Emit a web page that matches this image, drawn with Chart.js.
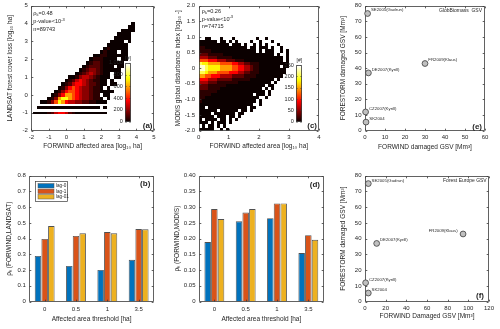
<!DOCTYPE html>
<html><head><meta charset="utf-8"><title>FORWIND comparison</title>
<script src="https://cdn.jsdelivr.net/npm/chart.js@4.4.1/dist/chart.umd.min.js"></script>
<style>
html,body{margin:0;padding:0;background:#ffffff;}
#fig{position:relative;width:500px;height:329px;overflow:hidden;background:#fff;}
#fig canvas{position:absolute;left:0;top:0;}
</style></head>
<body><div id="fig">
<canvas id="cA" width="500" height="329"></canvas>
<canvas id="cAbar" width="500" height="329"></canvas>
<canvas id="cC" width="500" height="329"></canvas>
<canvas id="cCbar" width="500" height="329"></canvas>
<canvas id="cE" width="500" height="329"></canvas>
<canvas id="cB" width="500" height="329"></canvas>
<canvas id="cD" width="500" height="329"></canvas>
<canvas id="cF" width="500" height="329"></canvas>
</div>
<script>
/* ================= DATA ================= */
// (a) 2-D histogram FORWIND vs LANDSAT [log10 ha]; one string per y-bin, one char per x-bin
// '.' = empty bin, digit = count class (heatA_classCounts)
const heatA_xFirst = -1.8;
const heatA_xBin = 0.2;
const heatA_rowY = [4.0, 3.8, 3.6, 3.4, 3.2, 3.0, 2.8, 2.6, 2.4, 2.2, 2.0, 1.8, 1.6, 1.4, 1.2, 1.0, 0.8, 0.6, 0.4, 0.2, 0.0, -0.2, -0.4, -0.7, -1.0];
const heatA_rowH = [0.2, 0.2, 0.2, 0.2, 0.2, 0.2, 0.2, 0.2, 0.2, 0.2, 0.2, 0.2, 0.2, 0.2, 0.2, 0.2, 0.2, 0.2, 0.2, 0.2, 0.2, 0.2, 0.2, 0.12, 0.12];
const heatA_rowStart = [28, 27, 25, 24, 23, 22, 21, 20, 19, 17, 16, 15, 14, 13, 12, 10, 9, 8, 7, 6, 5, 4, 2, 1, 0];
const heatA_rows = [
  "0",
  "00",
  "0000",
  "0000",
  "00000",
  "0000.0",
  "000000",
  "0100000",
  "01000.00",
  "0011000000",
  "01110000.00",
  "01221000000",
  "012221000.00",
  "012332100000",
  "0123432100.00",
  "001344321000.00",
  "012454321100.0",
  "0124554322100.00",
  "0135654332110.0",
  "01356654332110000",
  "01357765433211.00",
  "0137887654332110.0",
  "0013687544332211000",
  "000000000000000000.0",
  "000012455421000000000"
];
const heatA_classCounts = [5, 50, 120, 190, 270, 370, 480, 600, 750, 900];
const heatA_cmax = 1000;
const statA_rho = "0.48";
const statA_pexp = "-3";
const statA_n = "89743";

// (c) 2-D histogram FORWIND vs MODIS global disturbance index
const heatC_xFirst = 0.05;
const heatC_xBin = 0.1;
const heatC_yBin = 0.1;
const heatC_rowY = [0.95, 0.85, 0.75, 0.65, 0.55, 0.45, 0.35, 0.25, 0.15, 0.05, -0.05, -0.15, -0.25, -0.35, -0.45, -0.55, -0.65, -0.75, -0.85, -0.95, -1.05, -1.15, -1.25, -1.35, -1.45, -1.55, -1.65, -1.75, -1.85, -1.95];
const heatC_rows = [
  "..00...0...0.......0..0",
  "000000.00.0.0....0..0...0",
  "0000000000.000.0..0.0.0...0",
  "1100000000000000.00.000.0..0",
  "1111000000000000000.0.000..0.0",
  "2221111100000000000000000.0..0",
  "3332221111100000000000000000.0",
  "5554443332221110000000000000.0",
  "877666655554433221110000000000",
  "998777766665544332110000000.00",
  "99877776666554433211000000000",
  "88766655554443322111000000000",
  "6655444333322221111000000000",
  "4443332222211111100000000.0",
  "333222111111100000000000.0",
  "2221111110000000000000.00",
  "222111100000000000000.0.0",
  "1111110000000000000000.0",
  "111100000000000000.000.0",
  "11000000000000000000..0",
  "1000000000000000000.0",
  "000000000000000000..0",
  "00.0000000000000.00",
  "000000.000000.00.0",
  "0000.0000000.00",
  "00000.000.00.0",
  "0.0000.00.0.0",
  "000.0.000.0",
  ".0.00.0.0",
  "00000..0.0"
];
const heatC_classCounts = [2, 15, 35, 60, 90, 120, 150, 180, 205, 235];
const heatC_cmax = 250;
const statC_rho = "0.26";
const statC_pexp = "-3";
const statC_n = "74715";

// (b),(d) Kendall correlation vs affected-area threshold
const thresholds = ["0", "0.5", "1", "3.5"];
const lagNames = ["lag-0", "lag-1", "lag-01"];
const rhoLandsat_lag0 = [0.290, 0.226, 0.201, 0.265];
const rhoLandsat_lag1 = [0.398, 0.417, 0.442, 0.461];
const rhoLandsat_lag01 = [0.480, 0.434, 0.434, 0.459];
const rhoModis_lag0 = [0.189, 0.255, 0.265, 0.154];
const rhoModis_lag1 = [0.294, 0.283, 0.312, 0.211];
const rhoModis_lag01 = [0.262, 0.294, 0.312, 0.196];

// (e),(f) storm damaged growing stock volume [Mm3]
const stormNames = ["SE2005(Gudrun)", "DE2007(Kyrill)", "FR2009(Klaus)", "CZ2007(Kyrill)", "SK2004"];
const forestormGSV = [75, 37, 43, 12, 5.5];
const forwindGSV_GlobBiomass = [1.3, 1.7, 30, 0.3, 0.5];
const forwindGSV_ForestEurope = [3.2, 11.3, 94.9, 0.6, 3.2];

/* ================= STYLE / HELPERS ================= */
const FONT = "'Liberation Sans', Arial, Helvetica, sans-serif";
const TXT = '#262626';
const TICK_SIZE = 6;
const TITLE_SIZE = 6.5;
const LH = TITLE_SIZE * 1.2;
const CW = 500, CH = 329;
const BAR_COLORS = ['#0072BD', '#D95319', '#EDB120'];
Chart.defaults.font.family = FONT;
Chart.defaults.color = TXT;

function hotColor(v, vmax) {
  const m = 64;
  let idx = Math.floor(v / vmax * m) + 1;
  if (idx > m) idx = m; if (idx < 1) idx = 1;
  const r = Math.min(1, idx / 24);
  const g = Math.max(0, Math.min(1, (idx - 24) / 24));
  const b = Math.max(0, Math.min(1, (idx - 48) / 16));
  return 'rgb(' + Math.round(r * 255) + ',' + Math.round(g * 255) + ',' + Math.round(b * 255) + ')';
}

function frame(area, yTitleX, xTitleY) {
  const padL = yTitleX - LH / 2;
  const padB = CH - (xTitleY + LH / 2);
  return {
    padding: {left: padL, top: area.t, right: CW - area.r, bottom: padB},
    yW: area.l - padL,
    xH: (xTitleY + LH / 2) - area.b
  };
}

function axis(o) {
  const s = {
    type: o.type || 'linear',
    display: true,
    grid: {display: false, drawTicks: false},
    border: {display: false},
    ticks: {color: TXT, font: {family: FONT, size: o.tickSize || TICK_SIZE}, padding: o.pad, maxRotation: 0, autoSkip: false},
    title: {display: !!o.title, text: o.title || '', color: TXT, font: {family: FONT, size: TITLE_SIZE, lineHeight: 1.2}, padding: 0}
  };
  if (o.type !== 'category') { s.min = o.min; s.max = o.max; s.ticks.stepSize = o.step; }
  if (o.horizontal) {
    s.afterFit = (sc) => { sc.height = o.size; sc.paddingLeft = 0; sc.paddingRight = 0; };
  } else {
    s.afterFit = (sc) => { sc.width = o.size; sc.paddingTop = 0; sc.paddingBottom = 0; };
  }
  return s;
}

function boxPlugin(hook, tl) {
  const p = {id: 'box_' + hook};
  p[hook] = function (chart) {
    const ctx = chart.ctx, a = chart.chartArea;
    const xs = chart.scales.x, ys = chart.scales.y;
    const L = Math.round(a.left) + 0.5, R = Math.round(a.right) - 0.5;
    const T = Math.round(a.top) + 0.5, B = Math.round(a.bottom) - 0.5;
    ctx.save();
    ctx.strokeStyle = '#3a3a3a';
    ctx.lineWidth = 0.8;
    ctx.beginPath();
    ctx.rect(L, T, R - L, B - T);
    if (xs && xs.options.display !== false) {
      xs.ticks.forEach((t, i) => {
        const px = Math.round(xs.getPixelForTick(i)) + 0.5;
        ctx.moveTo(px, B); ctx.lineTo(px, B - tl);
        ctx.moveTo(px, T); ctx.lineTo(px, T + tl);
      });
    }
    if (ys) {
      ys.ticks.forEach((t, i) => {
        const py = Math.round(ys.getPixelForTick(i)) + 0.5;
        ctx.moveTo(L, py); ctx.lineTo(L + tl, py);
        ctx.moveTo(R, py); ctx.lineTo(R - tl, py);
      });
    }
    ctx.stroke();
    ctx.restore();
  };
  return p;
}

function heatPlugin(h) {
  return {
    id: 'heat',
    beforeDatasetsDraw(chart) {
      const ctx = chart.ctx, a = chart.chartArea;
      const xs = chart.scales.x, ys = chart.scales.y;
      ctx.save();
      ctx.beginPath(); ctx.rect(a.left, a.top, a.right - a.left, a.bottom - a.top); ctx.clip();
      h.rows.forEach((row, r) => {
        const yc = h.rowY[r], hh = h.rowH[r];
        const y0 = Math.round(ys.getPixelForValue(yc + hh / 2));
        const y1 = Math.round(ys.getPixelForValue(yc - hh / 2));
        const start = h.rowStart ? h.rowStart[r] : 0;
        for (let j = 0; j < row.length; j++) {
          const ch = row[j];
          if (ch === '.') continue;
          const xc = h.xFirst + (start + j) * h.xBin;
          const x0 = Math.round(xs.getPixelForValue(xc - h.xBin / 2));
          const x1 = Math.round(xs.getPixelForValue(xc + h.xBin / 2));
          ctx.fillStyle = hotColor(h.counts[+ch], h.cmax);
          ctx.fillRect(x0, y0, x1 - x0, y1 - y0);
        }
      });
      ctx.restore();
    }
  };
}

function drawRich(ctx, segs, x, y, size, align, bold) {
  const w = bold ? 'bold ' : '';
  const parts = segs.map(s => {
    const sc = s[1] ? 0.72 : 1;
    const f = w + (size * sc) + 'px ' + FONT;
    ctx.font = f;
    return {t: s[0], f: f, w: ctx.measureText(s[0]).width,
      dy: s[1] === 'sub' ? size * 0.3 : (s[1] === 'sup' ? -size * 0.38 : 0)};
  });
  const total = parts.reduce((acc, p) => acc + p.w, 0);
  let cx = align === 'right' ? x - total : (align === 'center' ? x - total / 2 : x);
  ctx.save();
  ctx.fillStyle = TXT; ctx.textBaseline = 'middle'; ctx.textAlign = 'left';
  parts.forEach(p => { ctx.font = p.f; ctx.fillText(p.t, cx, y + p.dy); cx += p.w; });
  ctx.restore();
}

function textPlugin(items) {
  return {
    id: 'txt',
    afterDraw(chart) {
      const a = chart.chartArea, ctx = chart.ctx;
      items.forEach(it => {
        const bx = it.anchor[1] === 'l' ? a.left : (it.anchor[1] === 'r' ? a.right : (a.left + a.right) / 2);
        const by = it.anchor[0] === 't' ? a.top : a.bottom;
        drawRich(ctx, it.segs, bx + it.dx, by + it.dy, it.size, it.align || 'left', it.bold);
      });
    }
  };
}

function pointLabelPlugin(names, rightAligned) {
  return {
    id: 'ptlab',
    afterDatasetsDraw(chart) {
      const meta = chart.getDatasetMeta(0), ctx = chart.ctx;
      ctx.save();
      ctx.font = '4.3px ' + FONT;
      ctx.fillStyle = TXT;
      ctx.textBaseline = 'middle';
      meta.data.forEach((pt, i) => {
        if (rightAligned.indexOf(i) >= 0) { ctx.textAlign = 'right'; ctx.fillText(names[i], pt.x - 5.5, pt.y - 3.5); }
        else { ctx.textAlign = 'left'; ctx.fillText(names[i], pt.x + 3.3, pt.y - 3.2); }
      });
      ctx.restore();
    }
  };
}

const barLegendPlugin = {
  id: 'barlegend',
  afterDatasetsDraw(chart) {
    const a = chart.chartArea, ctx = chart.ctx;
    const bx = Math.round(a.left + 5.7) + 0.5, by = Math.round(a.top + 5) + 0.5, bw = 32, bh = 20;
    ctx.save();
    ctx.fillStyle = '#fff'; ctx.fillRect(bx, by, bw, bh);
    ctx.strokeStyle = '#3a3a3a'; ctx.lineWidth = 0.7; ctx.strokeRect(bx, by, bw, bh);
    chart.data.datasets.forEach((ds, i) => {
      const cy = by + 4.3 + i * 5.5;
      ctx.fillStyle = ds.backgroundColor;
      ctx.fillRect(bx + 2.5, cy - 2.2, 16, 4.4);
      ctx.strokeStyle = '#555'; ctx.lineWidth = 0.5;
      ctx.strokeRect(bx + 2.5, cy - 2.2, 16, 4.4);
      ctx.font = '4.6px ' + FONT; ctx.fillStyle = TXT; ctx.textBaseline = 'middle'; ctx.textAlign = 'left';
      ctx.fillText(ds.label, bx + 20.5, cy);
    });
    ctx.restore();
  }
};

const baseOpts = () => ({
  responsive: false, animation: false, events: [], devicePixelRatio: 1,
  plugins: {legend: {display: false}, tooltip: {enabled: false}, title: {display: false}}
});

/* ---------- heatmap panel ---------- */
function heatPanel(id, area, yTx, xTy, xr, yr, xTitle, yTitle, heat, texts) {
  const fr = frame(area, yTx, xTy);
  const o = baseOpts();
  o.layout = {padding: fr.padding};
  o.scales = {
    x: axis({min: xr[0], max: xr[1], step: xr[2], title: xTitle, horizontal: true, size: fr.xH, pad: 3}),
    y: axis({min: yr[0], max: yr[1], step: yr[2], title: yTitle, size: fr.yW, pad: 3.5})
  };
  return new Chart(document.getElementById(id), {
    type: 'scatter',
    data: {datasets: [{data: [], pointRadius: 0}]},
    options: o,
    plugins: [heatPlugin(heat), boxPlugin('afterDatasetsDraw', 1.8), textPlugin(texts)]
  });
}

function colorbar(id, area, vmax, step) {
  const o = baseOpts();
  const yW = 20;
  o.layout = {padding: {left: area.l - yW, top: area.t, right: CW - area.r, bottom: CH - area.b}};
  const xa = axis({type: 'category', horizontal: true, size: 0, pad: 0});
  xa.display = false;
  o.scales = {x: xa, y: axis({min: 0, max: vmax, step: step, size: yW, pad: 2.2, tickSize: 5.5})};
  return new Chart(document.getElementById(id), {
    type: 'bar',
    data: {labels: [''], datasets: [{
      data: [vmax], borderWidth: 0, barPercentage: 1, categoryPercentage: 1,
      backgroundColor: (c) => {
        const ch = c.chart, a = ch.chartArea;
        if (!a) return '#000';
        const g = ch.ctx.createLinearGradient(0, a.bottom, 0, a.top);
        for (let k = 0; k <= 64; k++) g.addColorStop(k / 64, hotColor(k / 64 * vmax, vmax));
        return g;
      }
    }]},
    options: o,
    plugins: [boxPlugin('afterDatasetsDraw', 1), textPlugin([{segs: [['[#]']], anchor: 'tc', dx: 0.3, dy: -4, size: 5, align: 'center'}])]
  });
}

/* ---------- (a) ---------- */
heatPanel('cA', {l: 31.3, t: 5.7, r: 154, b: 130.7}, 10, 146.7, [-2, 5, 1], [-2, 5, 1],
  'FORWIND affected area [log\u2081\u2080 ha]', 'LANDSAT forest cover loss [log\u2081\u2080 ha]',
  {rows: heatA_rows, rowY: heatA_rowY, rowH: heatA_rowH, rowStart: heatA_rowStart, xFirst: heatA_xFirst, xBin: heatA_xBin, counts: heatA_classCounts, cmax: heatA_cmax},
  [
    {segs: [['\u03C1'], ['k', 'sub'], ['=' + statA_rho]], anchor: 'tl', dx: 2, dy: 7.3, size: 5.6},
    {segs: [['p-value<10'], [statA_pexp, 'sup']], anchor: 'tl', dx: 2, dy: 16, size: 5.6},
    {segs: [['n=' + statA_n]], anchor: 'tl', dx: 2, dy: 23.6, size: 5.6},
    {segs: [['(a)']], anchor: 'br', dx: -1.5, dy: -4.5, size: 8, align: 'right', bold: true}
  ]);
colorbar('cAbar', {l: 125, t: 62.7, r: 130.7, b: 121.7}, heatA_cmax, 200);

/* ---------- (c) ---------- */
const heatC_rowH = heatC_rowY.map(() => heatC_yBin);
heatPanel('cC', {l: 198.7, t: 5.7, r: 319, b: 130.7}, 178.3, 146.7, [0, 4, 1], [-2, 2, 0.5],
  'FORWIND affected area [log\u2081\u2080 ha]', 'MODIS global disturbance index [log\u2081\u2080 -]',
  {rows: heatC_rows, rowY: heatC_rowY, rowH: heatC_rowH, xFirst: heatC_xFirst, xBin: heatC_xBin, counts: heatC_classCounts, cmax: heatC_cmax},
  [
    {segs: [['\u03C1'], ['k', 'sub'], ['=' + statC_rho]], anchor: 'tl', dx: 3, dy: 6, size: 5.6},
    {segs: [['p-value<10'], [statC_pexp, 'sup']], anchor: 'tl', dx: 3, dy: 13.3, size: 5.6},
    {segs: [['n=' + statC_n]], anchor: 'tl', dx: 3, dy: 21, size: 5.6},
    {segs: [['(c)']], anchor: 'br', dx: -2, dy: -5, size: 8, align: 'right', bold: true}
  ]);
colorbar('cCbar', {l: 296, t: 65, r: 302, b: 121.7}, heatC_cmax, 50);

/* ---------- scatter panels ---------- */
function scatterPanel(id, area, yTx, xTy, xr, yr, xTitle, yTitle, xs, ys, rightLab, texts) {
  const fr = frame(area, yTx, xTy);
  const o = baseOpts();
  o.layout = {padding: fr.padding};
  o.scales = {
    x: axis({min: xr[0], max: xr[1], step: xr[2], title: xTitle, horizontal: true, size: fr.xH, pad: 3.2}),
    y: axis({min: yr[0], max: yr[1], step: yr[2], title: yTitle, size: fr.yW, pad: 3.5})
  };
  return new Chart(document.getElementById(id), {
    type: 'scatter',
    data: {datasets: [{
      data: xs.map((v, i) => ({x: v, y: ys[i]})),
      pointRadius: 2.9, pointBackgroundColor: '#c0c0c0', pointBorderColor: '#3c3c3c', pointBorderWidth: 0.8,
      clip: false
    }]},
    options: o,
    plugins: [boxPlugin('beforeDatasetsDraw', 1.8), pointLabelPlugin(stormNames, rightLab), textPlugin(texts)]
  });
}

scatterPanel('cE', {l: 365, t: 5.7, r: 485, b: 130.7}, 343, 147.3, [0, 60, 10], [0, 80, 10],
  'FORWIND damaged GSV [Mm\u00B3]', 'FORESTORM damaged GSV [Mm\u00B3]',
  forwindGSV_GlobBiomass, forestormGSV, [],
  [
    {segs: [['GlobBiomass  GSV']], anchor: 'tr', dx: -3, dy: 4.5, size: 5, align: 'right'},
    {segs: [['(e)']], anchor: 'br', dx: -3, dy: -4.3, size: 8, align: 'right', bold: true}
  ]);

scatterPanel('cF', {l: 365, t: 175.7, r: 489, b: 301.7}, 343, 316.7, [0, 120, 20], [0, 80, 10],
  'FORWIND Damaged GSV [Mm\u00B3]', 'FORESTORM damaged GSV [Mm\u00B3]',
  forwindGSV_ForestEurope, forestormGSV, [2],
  [
    {segs: [['Forest Europe GSV']], anchor: 'tr', dx: -2.3, dy: 5, size: 5, align: 'right'},
    {segs: [['(f)']], anchor: 'br', dx: -5, dy: -5.5, size: 8, align: 'right', bold: true}
  ]);

/* ---------- bar panels ---------- */
function barPanel(id, area, yTx, xTy, yr, yTitle, series, legend, texts) {
  const fr = frame(area, yTx, xTy);
  const o = baseOpts();
  o.layout = {padding: fr.padding};
  o.scales = {
    x: axis({type: 'category', title: 'Affected area threshold [ha]', horizontal: true, size: fr.xH, pad: 4.3}),
    y: axis({min: yr[0], max: yr[1], step: yr[2], title: yTitle, size: fr.yW, pad: 3.2})
  };
  const plugins = [boxPlugin('afterDatasetsDraw', 1.8), textPlugin(texts)];
  if (legend) plugins.push(barLegendPlugin);
  return new Chart(document.getElementById(id), {
    type: 'bar',
    data: {labels: thresholds, datasets: series.map((d, i) => ({
      label: lagNames[i], data: d, backgroundColor: BAR_COLORS[i],
      borderColor: '#505050', borderWidth: 0.9, barPercentage: 0.97, categoryPercentage: 0.64
    }))},
    options: o,
    plugins: plugins
  });
}

barPanel('cB', {l: 29, t: 175.7, r: 154.3, b: 301.5}, 9.3, 319.3, [0, 0.8, 0.1],
  '\u03C1\u2096 (FORWIND,LANDSAT)', [rhoLandsat_lag0, rhoLandsat_lag1, rhoLandsat_lag01], true,
  [{segs: [['(b)']], anchor: 'tr', dx: -4, dy: 8.5, size: 8, align: 'right', bold: true}]);

barPanel('cD', {l: 198.7, t: 175.7, r: 324, b: 301.5}, 177.7, 319.3, [0, 0.4, 0.05],
  '\u03C1\u2096 (FORWIND,MODIS)', [rhoModis_lag0, rhoModis_lag1, rhoModis_lag01], false,
  [{segs: [['(d)']], anchor: 'tr', dx: -4, dy: 9, size: 8, align: 'right', bold: true}]);
</script>
</body></html>
